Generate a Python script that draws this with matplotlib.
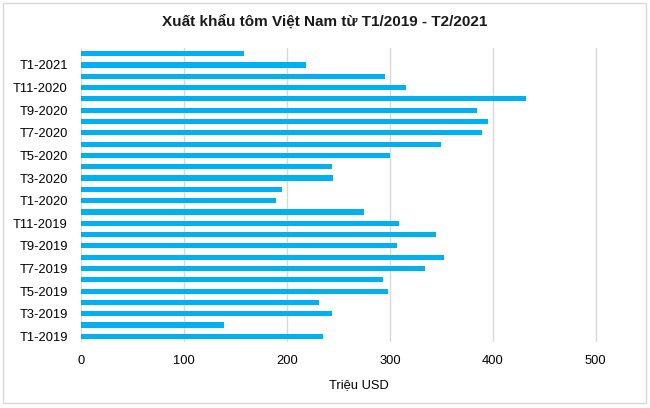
import matplotlib

matplotlib.use('Agg')
import matplotlib.pyplot as plt
from matplotlib.patches import Rectangle

plt.rcParams['font.family'] = ['Liberation Sans', 'DejaVu Sans']

BAR = '#00b0f0'
GRID = '#d9d9d9'

months = [f'T{m}-2019' for m in range(1, 13)] + [f'T{m}-2020' for m in range(1, 13)] + ['T1-2021', 'T2-2021']
values = [235, 139, 244, 231, 298, 293, 334, 353, 307, 345, 309, 275,
          189, 195, 245, 244, 300, 350, 389, 395, 385, 432, 316, 295,
          219, 158]
x_ticks = [0, 100, 200, 300, 400, 500]

fig = plt.figure(figsize=(6.5, 4.08), dpi=100)
fig.patch.set_facecolor('white')
fig.patches.append(Rectangle((3 / 650, 5 / 408), 643 / 650, 400 / 408, transform=fig.transFigure,
                             fill=False, edgecolor='#d9d9d9', linewidth=1))

ax = fig.add_axes([81 / 650, 1 - 342 / 408, 556 / 650, 294 / 408])
pos = list(range(len(months)))
ax.barh(pos, values, height=0.45, color=BAR, zorder=2)

ax.set_ylim(-0.5, len(months) - 0.5)
ax.set_xlim(0, 540)
ax.set_xticks(x_ticks)
ax.set_yticks(pos[::2])
ax.set_yticklabels(months[::2])
ax.tick_params(axis='both', length=0, labelsize=9.3, colors='black')
ax.tick_params(axis='x', pad=9)
ax.tick_params(axis='y', pad=9.5)
ax.grid(axis='x', color=GRID, linewidth=1, zorder=0)
for s in ax.spines.values():
    s.set_visible(False)

ax.set_xlabel('Triệu USD', fontsize=9.3, labelpad=9)
fig.text(0.5, 1 - 22 / 408, 'Xuất khẩu tôm Việt Nam từ T1/2019 - T2/2021', ha='center', va='center',
         fontsize=11, fontweight='bold', color='#1a1a1a')

fig.savefig('out.png', dpi=100, facecolor='white')
